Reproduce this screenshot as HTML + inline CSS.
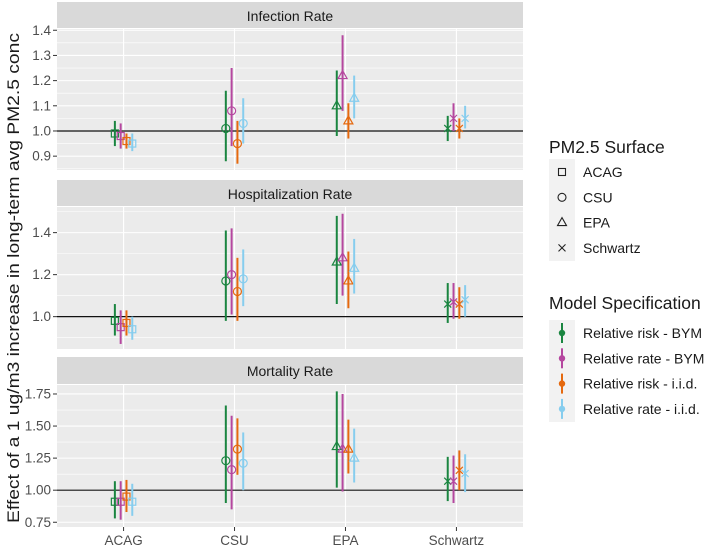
<!DOCTYPE html>
<html><head><meta charset="utf-8"><style>
body{margin:0;background:#fff;}
svg{display:block;font-family:"Liberation Sans",Arial,sans-serif;}
</style></head><body>
<svg id="c" width="705" height="546"></svg>
<script>
const categories=["ACAG","CSU","EPA","Schwartz"];
const models=["Relative risk - BYM","Relative rate - BYM","Relative risk - i.i.d.","Relative rate - i.i.d."];
const colors=["#1a8540","#b5479f","#e5690f","#86cdee"];
const shapes=["square","circle","triangle","cross"];
const facets=["Infection Rate","Hospitalization Rate","Mortality Rate"];
const infEst=[[0.99,0.98,0.96,0.95],[1.01,1.08,0.95,1.03],[1.10,1.22,1.04,1.13],[1.01,1.05,1.01,1.05]];
const infLo=[[0.94,0.93,0.93,0.92],[0.88,0.94,0.87,0.95],[0.98,1.08,0.97,1.05],[0.96,1.00,0.97,1.01]];
const infHi=[[1.04,1.03,0.99,0.99],[1.16,1.25,1.04,1.13],[1.24,1.38,1.11,1.22],[1.06,1.11,1.05,1.10]];
const hosEst=[[0.98,0.95,0.97,0.94],[1.17,1.20,1.12,1.18],[1.26,1.28,1.17,1.23],[1.06,1.07,1.06,1.08]];
const hosLo=[[0.91,0.87,0.91,0.89],[0.98,1.01,0.98,1.05],[1.06,1.10,1.04,1.11],[0.97,0.99,0.99,1.00]];
const hosHi=[[1.06,1.03,1.03,1.00],[1.41,1.42,1.28,1.32],[1.48,1.49,1.31,1.37],[1.16,1.16,1.14,1.15]];
const morEst=[[0.91,0.91,0.95,0.91],[1.23,1.16,1.32,1.21],[1.34,1.32,1.32,1.25],[1.07,1.07,1.155,1.13]];
const morLo=[[0.78,0.77,0.83,0.80],[0.90,0.85,1.12,1.00],[1.02,0.99,1.13,1.06],[0.915,0.90,1.00,0.985]];
const morHi=[[1.07,1.07,1.08,1.05],[1.66,1.58,1.56,1.45],[1.77,1.75,1.55,1.48],[1.26,1.27,1.31,1.28]];
const infTicks=[0.9,1.0,1.1,1.2,1.3,1.4];
const hosTicks=[1.0,1.2,1.4];
const morTicks=[0.75,1.00,1.25,1.50,1.75];
const infTickLabels=["0.9","1.0","1.1","1.2","1.3","1.4"];
const hosTickLabels=["1.0","1.2","1.4"];
const morTickLabels=["0.75","1.00","1.25","1.50","1.75"];

const NS="http://www.w3.org/2000/svg";
const svg=document.getElementById('c');
function mk(tag,attrs,parent){const e=document.createElementNS(NS,tag);for(const k in attrs)e.setAttribute(k,attrs[k]);(parent||svg).appendChild(e);return e;}
const X0=57,X1=523;
const xScale=v=>X0+(v-0.4)/(4.2)*(X1-X0);
const dodge=[-8.7,-2.9,2.9,8.7];
const panels=[
 {name:"infection",title:facets[0],sy:2,top:29,bot:170,dmin:0.845,dmax:1.405,est:infEst,lo:infLo,hi:infHi,ticks:infTicks,labels:infTickLabels,minor:[0.85,0.95,1.05,1.15,1.25,1.35]},
 {name:"hospitalization",title:facets[1],sy:180,top:207,bot:349,dmin:0.846,dmax:1.522,est:hosEst,lo:hosLo,hi:hosHi,ticks:hosTicks,labels:hosTickLabels,minor:[0.9,1.1,1.3,1.5]},
 {name:"mortality",title:facets[2],sy:357,top:385,bot:527,dmin:0.713,dmax:1.82,est:morEst,lo:morLo,hi:morHi,ticks:morTicks,labels:morTickLabels,minor:[0.875,1.125,1.375,1.625]}
];
function shape(s,x,y,col,g){
 const a={fill:"none",stroke:col,"stroke-width":1.2};
 let e;
 if(s==="square") e=mk('rect',Object.assign({x:x-3.5,y:y-3.5,width:7,height:7},a),g);
 else if(s==="circle") e=mk('circle',Object.assign({cx:x,cy:y,r:4},a),g);
 else if(s==="triangle") e=mk('polygon',Object.assign({points:`${x},${y-5} ${x-4.5},${y+3} ${x+4.5},${y+3}`},a),g);
 else e=mk('path',Object.assign({d:`M${x-3.5},${y-3.5}L${x+3.5},${y+3.5}M${x-3.5},${y+3.5}L${x+3.5},${y-3.5}`},a),g);
 return e;
}
panels.forEach(p=>{
 const y=v=>p.bot-(v-p.dmin)/(p.dmax-p.dmin)*(p.bot-p.top);
 const g=mk('g',{});
 
 
 const st=mk('rect',{x:X0,y:p.sy,width:X1-X0,height:p.top-p.sy-1,fill:"#d9d9d9"},g);
 
 const stt=mk('text',{x:(X0+X1)/2,y:p.sy+19,"text-anchor":"middle","font-size":"14",fill:"#1a1a1a"},g);
 stt.textContent=p.title;
 
 mk('rect',{x:X0,y:p.top,width:X1-X0,height:p.bot-p.top,fill:"#ebebeb"},g);
 p.minor.forEach(v=>{const yy=y(v);if(yy>p.top&&yy<p.bot)mk('line',{x1:X0,x2:X1,y1:yy,y2:yy,stroke:"#fff","stroke-width":0.6},g);});
 p.ticks.forEach((v,i)=>{const yy=y(v);
  mk('line',{x1:X0,x2:X1,y1:yy,y2:yy,stroke:"#fff","stroke-width":1.1},g);
  mk('line',{x1:X0-4,x2:X0,y1:yy,y2:yy,stroke:"#333","stroke-width":1},g);
  const t=mk('text',{x:X0-6,y:yy+4.5,"text-anchor":"end","font-size":"13.5",fill:"#4d4d4d"},g);
  t.textContent=p.labels[i];
  
 });
 categories.forEach((c,ci)=>mk('line',{x1:xScale(ci+1),x2:xScale(ci+1),y1:p.top,y2:p.bot,stroke:"#fff","stroke-width":1.1},g));
 const ref=mk('line',{x1:X0,x2:X1,y1:y(1),y2:y(1),stroke:"#111","stroke-width":1.2},g);
 
 categories.forEach((c,ci)=>{
  models.forEach((m,mi)=>{
   const xx=xScale(ci+1)+dodge[mi];
   const eb=mk('line',{x1:xx,x2:xx,y1:y(p.lo[ci][mi]),y2:y(p.hi[ci][mi]),stroke:colors[mi],"stroke-width":2},g);
   
   const pt=shape(shapes[ci],xx,y(p.est[ci][mi]),colors[mi],g);
   
  });
 });
});
categories.forEach((c,ci)=>{
 const xx=xScale(ci+1);
 mk('line',{x1:xx,x2:xx,y1:527,y2:531,stroke:"#333","stroke-width":1});
 const t=mk('text',{x:xx,y:545,"text-anchor":"middle","font-size":"13.5",fill:"#4d4d4d"});
 t.textContent=c;
 
});
const yt=mk('text',{x:0,y:0,transform:"translate(19,278) rotate(-90)","text-anchor":"middle","font-size":"17",fill:"#1a1a1a",textLength:"490",lengthAdjust:"spacingAndGlyphs"});
yt.textContent="Effect of a 1 ug/m3 increase in long-term avg PM2.5 conc";

const lg1=mk('g',{});

const t1=mk('text',{x:549,y:153,"font-size":"17.5",fill:"#1a1a1a"},lg1);t1.textContent="PM2.5 Surface";
mk('rect',{x:549,y:159,width:26,height:102,fill:"#f2f2f2"},lg1);
categories.forEach((c,i)=>{const yy=172+i*25.3;
 const s=shape(shapes[i],562,yy,"#222",lg1);s.setAttribute('stroke-width',1.1);
 const t=mk('text',{x:583,y:yy+5,"font-size":"14",fill:"#1a1a1a"},lg1);t.textContent=c;
 });
const lg2=mk('g',{});

const t2=mk('text',{x:549,y:309,"font-size":"17.5",fill:"#1a1a1a"},lg2);t2.textContent="Model Specification";
mk('rect',{x:549,y:320,width:26,height:102,fill:"#f2f2f2"},lg2);
models.forEach((m,i)=>{const yy=333+i*25.3;
 mk('line',{x1:562,x2:562,y1:yy-10,y2:yy+10,stroke:colors[i],"stroke-width":2},lg2);
 mk('circle',{cx:562,cy:yy,r:3.2,fill:colors[i]},lg2);
 const t=mk('text',{x:583,y:yy+5,"font-size":"14",fill:"#1a1a1a"},lg2);t.textContent=m;
 });
</script>
</body></html>
